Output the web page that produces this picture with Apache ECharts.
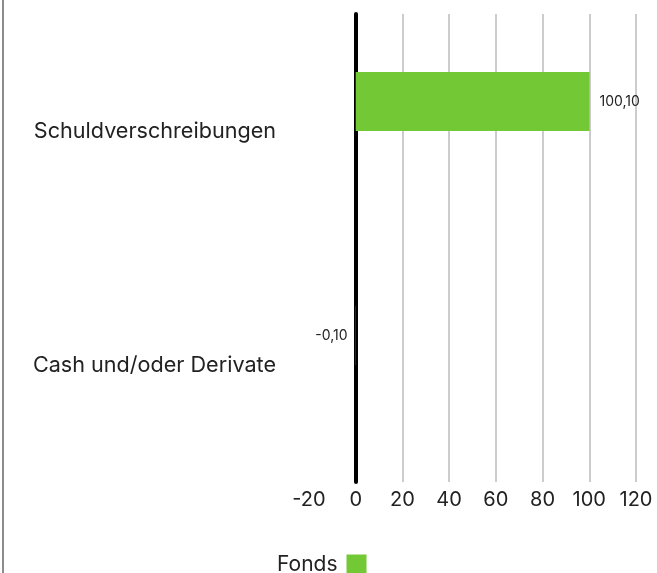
<!DOCTYPE html>
<html>
<head>
<meta charset="utf-8">
<script src="https://cdn.jsdelivr.net/npm/echarts@6/dist/echarts.min.js"></script>
<style>
  html, body { margin: 0; padding: 0; background: #fff; }
  #chart { width: 657px; height: 573px; }
</style>
</head>
<body>
<div id="chart"></div>
<script>
const categories = ['Schuldverschreibungen', 'Cash und/oder Derivate']
const fondsValues = [100.10, -0.10]
const emptyValues = [null, null]
const xMin = -20
const xMax = 120
const xStep = 20

const fmt = v => v.toFixed(2).replace('.', ',')
const font = 'Inter, "Noto Sans", sans-serif'
// erste Gitterlinie (-20) wird nicht gezeichnet
const gridColors = ['rgba(0,0,0,0)', '#cccccc', '#cccccc', '#cccccc', '#cccccc', '#cccccc', '#cccccc', '#cccccc']

const myChart = echarts.init(document.getElementById('chart'))
let option = {
  animation: false,
  textStyle: { fontFamily: font },
  graphic: [
    {
      type: 'line',
      shape: { x1: 3, y1: 0, x2: 3, y2: 573 },
      style: { stroke: '#8c8c8c', lineWidth: 2 }
    }
  ],
  grid: {
    left: 309,
    right: 21,
    top: 14,
    bottom: 91
  },
  legend: {
    data: ['Fonds'],
    left: 272,
    top: 549,
    align: 'right',
    itemWidth: 20,
    itemHeight: 20,
    icon: 'rect',
    textStyle: { fontSize: 21, color: '#222', fontFamily: font, padding: [2, 4, 0, 0] }
  },
  xAxis: {
    type: 'value',
    min: xMin,
    max: xMax,
    interval: xStep,
    axisLine: { show: false },
    axisTick: { show: false },
    axisLabel: {
      fontSize: 20,
      color: '#222',
      margin: 8,
      fontFamily: font
    },
    splitLine: {
      show: true,
      lineStyle: { color: gridColors, width: 2 }
    }
  },
  yAxis: {
    type: 'category',
    inverse: true,
    data: categories,
    axisLine: {
      show: true,
      onZero: true,
      lineStyle: { color: '#000', width: 4 }
    },
    axisTick: { show: false },
    axisLabel: {
      fontSize: 21.6,
      color: '#222',
      margin: 33,
      padding: [6, 0, 0, 0],
      fontFamily: font
    }
  },
  series: [
    {
      name: 'Fonds',
      type: 'bar',
      barWidth: 59,
      barGap: '0%',
      itemStyle: { color: '#73c935' },
      label: {
        show: true,
        position: 'right',
        distance: 10,
        fontSize: 14,
        color: '#222',
        fontFamily: font,
        formatter: p => fmt(p.value)
      },
      emphasis: { disabled: true },
      // negative Werte links beschriften
      data: fondsValues.map(v => ({
        value: v,
        label: v < 0 ? { position: 'left', distance: 8 } : {}
      }))
    },
    {
      name: 'Benchmark',
      type: 'bar',
      data: emptyValues,
      barWidth: 59,
      barGap: '0%'
    }
  ]
}
myChart.setOption(option)
</script>
</body>
</html>
